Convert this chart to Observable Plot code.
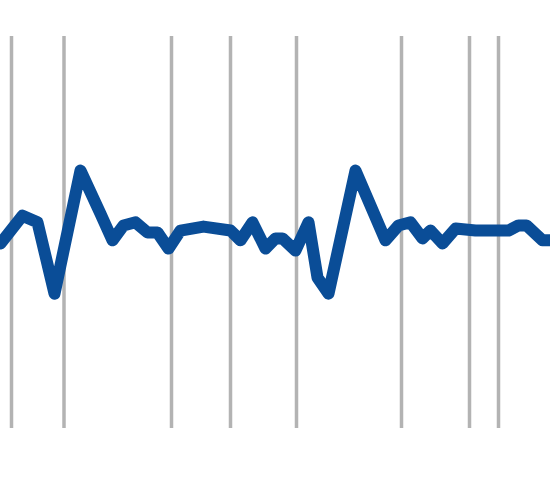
<!DOCTYPE html>
<html>
<head>
<meta charset="utf-8">
<script src="https://cdn.jsdelivr.net/npm/d3@7"></script>
<script src="https://cdn.jsdelivr.net/npm/@observablehq/plot@0.6"></script>
<style>
  html, body { margin: 0; padding: 0; background: #fff; }
  #chart svg { display: block; }
</style>
</head>
<body>
<div id="chart"></div>
<script>
const times = [0, 2.2, 3.7, 5.4, 8.0, 10.0, 11.2, 12.3, 13.5, 14.7, 15.7, 16.8, 18.0, 20.3, 23.0, 24.0, 25.2, 26.5, 27.5, 28.2, 29.5, 30.8, 31.7, 32.8, 35.5, 38.5, 39.8, 41.0, 42.2, 43.0, 44.2, 45.5, 47.5, 50.8, 51.8, 52.6, 54.2, 55.0];
const values = [47.2, 54.3, 52.6, 34.4, 65.8, 54.8, 48.0, 51.8, 52.6, 50.0, 50.0, 45.9, 50.5, 51.5, 50.5, 48.0, 52.6, 45.9, 48.5, 48.5, 45.4, 52.6, 38.5, 34.4, 65.8, 48.0, 51.8, 52.6, 48.5, 50.5, 47.2, 51.0, 50.5, 50.5, 51.8, 51.8, 48.0, 48.0];
const markers = [1.1, 6.35, 17.1, 23.0, 29.6, 40.1, 46.9, 49.8];

const series = times.map((t, i) => ({t, v: values[i]}));

const chart = Plot.plot({
  width: 550,
  height: 490,
  marginLeft: 0,
  marginRight: 0,
  marginTop: 36,
  marginBottom: 62,
  x: {domain: [0, 55], axis: null},
  y: {domain: [0, 100], axis: null},
  marks: [
    Plot.ruleX(markers, {stroke: "#b3b3b3", strokeWidth: 3.5, y1: 0, y2: 100}),
    Plot.line(series, {x: "t", y: "v", stroke: "#0a4d97", strokeWidth: 12, strokeLinejoin: "round", strokeLinecap: "round"})
  ]
});
document.getElementById("chart").appendChild(chart);
</script>
</body>
</html>
